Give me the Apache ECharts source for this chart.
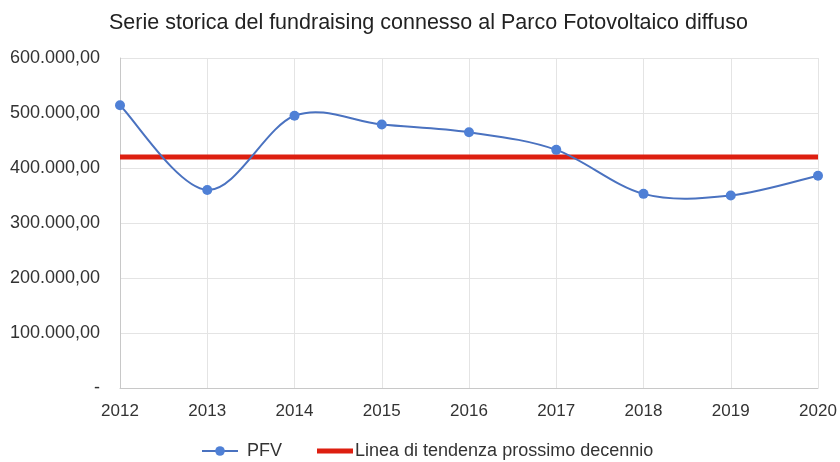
<!DOCTYPE html>
<html>
<head>
<meta charset="utf-8">
<script src="https://cdn.jsdelivr.net/npm/echarts@6/dist/echarts.min.js"></script>
<style>html,body{margin:0;padding:0;background:#fff;}#c{width:840px;height:462px;}</style>
</head>
<body>
<div id="c"></div>
<script>
const years = ['2012','2013','2014','2015','2016','2017','2018','2019','2020'];
const pfv = [514000, 360000, 495000, 479000, 465000, 433000, 353000, 350000, 386000];
const trend = [420000, 420000, 420000, 420000, 420000, 420000, 420000, 420000, 420000];
const titleText = 'Serie storica del fundraising connesso al Parco Fotovoltaico diffuso';
const seriesNames = ['PFV', 'Linea di tendenza prossimo decennio'];

const BLUE_LINE = '#4a72c0';
const BLUE_DOT = '#4f80d6';
const RED = '#dd1f10';

function fmt(v) {
  if (v === 0) return '-';
  const s = Math.round(v).toString().replace(/\B(?=(\d{3})+(?!\d))/g, '.');
  return s + ',00';
}

// Smoothed curve (Catmull-Rom style, as in spreadsheet "smoothed line"),
// each segment computed from data values through the chart's own coordinate system.
function renderSmooth(params, api) {
  const n = pfv.length;
  const i = params.dataIndex;
  if (i >= n - 1) return null;
  const c = k => { const j = Math.max(0, Math.min(n - 1, k)); return api.coord([j, pfv[j]]); };
  const p0 = c(i - 1), p1 = c(i), p2 = c(i + 1), p3 = c(i + 2);
  return {
    type: 'bezierCurve',
    shape: {
      x1: p1[0], y1: p1[1], x2: p2[0], y2: p2[1],
      cpx1: p1[0] + (p2[0] - p0[0]) / 6, cpy1: p1[1] + (p2[1] - p0[1]) / 6,
      cpx2: p2[0] - (p3[0] - p1[0]) / 6, cpy2: p2[1] - (p3[1] - p1[1]) / 6
    },
    style: { stroke: BLUE_LINE, lineWidth: 2, fill: null }
  };
}

const chart = echarts.init(document.getElementById('c'));
chart.setOption({
  animation: false,
  backgroundColor: '#fff',
  textStyle: { fontFamily: 'Liberation Sans, Arial, sans-serif' },
  title: {
    text: titleText, left: 104, top: 7,
    textStyle: { fontSize: 21.5, fontWeight: 'normal', color: '#222' }
  },
  legend: {
    top: 437, left: 196, itemGap: 35, itemWidth: 36, itemHeight: 12,
    textStyle: { fontSize: 18, color: '#333' },
    data: [
      { name: seriesNames[0], lineStyle: { opacity: 1, width: 2, color: BLUE_LINE },
        textStyle: { padding: [0, 0, 0, 4] } },
      { name: seriesNames[1], icon: 'path://M0,0 H36 V5 H0 Z', itemStyle: { color: RED },
        textStyle: { padding: [0, 0, 0, -3] } }
    ]
  },
  grid: { left: 120, right: 22, top: 58, bottom: 74 },
  xAxis: {
    type: 'category', data: years, boundaryGap: false,
    axisLine: { lineStyle: { color: '#c8c8c8' } },
    axisTick: { show: false },
    axisLabel: { fontSize: 17, color: '#333', margin: 15 },
    splitLine: { show: true, lineStyle: { color: '#e4e4e4' } }
  },
  yAxis: {
    type: 'value', min: 0, max: 600000, interval: 100000,
    axisLine: { show: true, lineStyle: { color: '#c8c8c8' } },
    axisTick: { show: false },
    axisLabel: { fontSize: 18, color: '#333', margin: 20, formatter: fmt },
    splitLine: { lineStyle: { color: '#e4e4e4' } }
  },
  series: [
    {
      name: 'PFV curve', type: 'custom', data: pfv.map((v, i) => [i, v]),
      renderItem: renderSmooth, silent: true, z: 3
    },
    {
      name: seriesNames[0], type: 'line', data: pfv,
      symbol: 'circle', symbolSize: 10,
      lineStyle: { color: BLUE_LINE, width: 2, opacity: 0 },
      itemStyle: { color: BLUE_DOT }, z: 4
    },
    {
      name: seriesNames[1], type: 'line', data: trend,
      symbol: 'none',
      lineStyle: { color: RED, width: 5 },
      itemStyle: { color: RED }, z: 2
    }
  ]
});
</script>
</body>
</html>
